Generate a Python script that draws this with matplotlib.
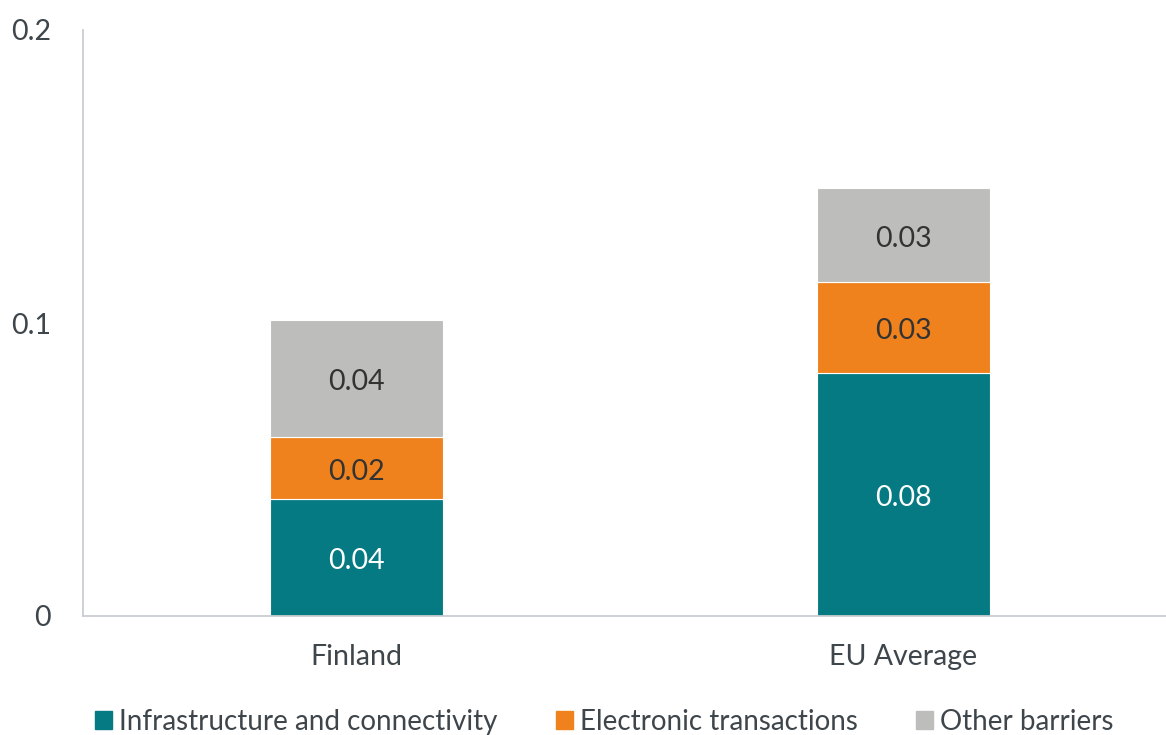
import matplotlib.pyplot as plt
import matplotlib.patches as mpatches
import numpy as np

plt.rcParams['font.family'] = ['Lato', 'DejaVu Sans']

countries = ['Finland', 'EU Average']
infrastructure = [0.040, 0.083]
electronic = [0.021, 0.031]
other = [0.040, 0.032]
series_names = ['Infrastructure and connectivity', 'Electronic transactions', 'Other barriers']
label_infra = ['0.04', '0.08']
label_elec = ['0.02', '0.03']
label_other = ['0.04', '0.03']

colors = ['#057A82', '#F0821E', '#BDBDBC']
text_col = '#3F464B'
axis_col = '#C9CDD1'

W, H = 1166, 735
fig = plt.figure(figsize=(W / 100, H / 100), dpi=100)
ax = fig.add_axes([83 / W, 1 - 616 / H, (W - 83) / W, (616 - 30) / H])

x = np.arange(len(countries))
width = 0.315
bottom = np.zeros(len(countries))
all_vals = [infrastructure, electronic, other]
all_labels = [label_infra, label_elec, label_other]
label_colors = ['white', '#333333', '#333333']
for vals, labs, col, name, lc in zip(all_vals, all_labels, colors, series_names, label_colors):
    bars = ax.bar(x, vals, width, bottom=bottom, color=col, edgecolor='white',
                  linewidth=0.8, label=name)
    for xi, b, v, t in zip(x, bottom, vals, labs):
        # small downward nudge so the label sits like the original's
        ax.annotate(t, (xi, b + v / 2), xytext=(0, -2.5), textcoords='offset points',
                    ha='center', va='center', fontsize=20.5, color=lc)
    bottom = bottom + np.array(vals)

ax.set_xlim(-0.5, 1.48)
ax.set_ylim(0, 0.2)
ax.set_yticks([0, 0.1, 0.2])
ax.set_yticklabels(['0', '0.1', '0.2'])
ax.set_xticks(x)
ax.set_xticklabels(countries)
ax.tick_params(axis='both', length=0, labelsize=20.5, colors=text_col)
ax.tick_params(axis='y', pad=23)
ax.tick_params(axis='x', pad=20)
for lab in ax.get_yticklabels():
    lab.set_horizontalalignment('right')
for s in ['top', 'right']:
    ax.spines[s].set_visible(False)
for s in ['left', 'bottom']:
    ax.spines[s].set_color(axis_col)
    ax.spines[s].set_linewidth(1.3)

handles = [mpatches.Patch(color=c) for c in colors]
leg = fig.legend(handles, series_names, loc='center left', bbox_to_anchor=(95 / W, 1 - 722 / H),
                 ncol=3, frameon=False, fontsize=20, handlelength=0.62, handleheight=0.62,
                 handletextpad=0.25, columnspacing=2.1, borderpad=0, borderaxespad=0)
for t in leg.get_texts():
    t.set_color(text_col)

fig.savefig('out.png', dpi=100, facecolor='white')
